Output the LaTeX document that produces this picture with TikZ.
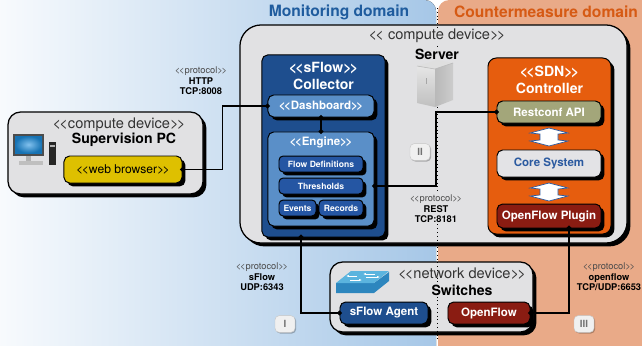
\documentclass[tikz,border=0pt]{standalone}
\usepackage{fontspec}
\setmainfont{TeX Gyre Heros}
\usetikzlibrary{shadows,arrows.meta,positioning}

\definecolor{monbg}{HTML}{A6C7E7}
\definecolor{montext}{HTML}{1F5C9E}
\definecolor{cmbg}{HTML}{E9AA88}
\definecolor{cmtext}{HTML}{D65A14}
\definecolor{boxgray}{HTML}{E1E1E3}
\definecolor{collblue}{HTML}{1E4E8E}
\definecolor{engblue}{HTML}{5A8FC8}
\definecolor{partblue}{HTML}{2556A3}
\definecolor{sdnorange}{HTML}{E65D0E}
\definecolor{restgreen}{HTML}{A3A67A}
\definecolor{coregray}{HTML}{E3E3E6}
\definecolor{coretext}{HTML}{2B5AA0}
\definecolor{ofred}{HTML}{8A1C12}
\definecolor{webyellow}{HTML}{DEC000}
\definecolor{swtop}{HTML}{5BB4DE}
\definecolor{swside}{HTML}{2D86BE}
\definecolor{screen}{HTML}{1C8FE0}

% stereotype brackets (kept apart so no guillemet ligature is formed)
\newcommand\sopen{<\kern-0.12em<}
\newcommand\sclose{>\kern-0.12em>}

\tikzset{
  shadowed/.style={drop shadow={shadow xshift=2.4pt,shadow yshift=-2.4pt,opacity=1,fill=black}},
  device/.style={shadowed,draw=black,line width=0.9pt,fill=boxgray,inner sep=0pt},
  part/.style={shadowed,draw=black,line width=0.7pt,rounded corners=4pt,inner sep=0pt,
    text=white,font=\fontsize{8.2}{9}\selectfont\bfseries},
  small part/.style={part,fill=partblue,minimum height=0.4cm,rounded corners=3pt,
    font=\fontsize{6.1}{7}\selectfont\bfseries},
  stereo/.style={font=\fontsize{10.4}{12}\selectfont,text=black!80},
  devname/.style={font=\fontsize{10}{12}\selectfont\bfseries},
  domaintitle/.style={font=\fontsize{11.1}{13}\selectfont\bfseries},
  proto/.style={align=center,font=\fontsize{6.6}{7.5}\selectfont\bfseries},
  link/.style={line width=0.9pt,{Circle[length=3.4pt]}-{Circle[length=3.4pt]},
    shorten <=-1.7pt,shorten >=-1.7pt},
  badge/.style={draw=gray!45,line width=0.3pt,fill=gray!12,rounded corners=3pt,inner sep=0pt,
    minimum width=0.5cm,minimum height=0.42cm,font=\fontsize{7}{8}\selectfont\bfseries,text=black!55,
    drop shadow={shadow xshift=0.8pt,shadow yshift=-0.8pt,opacity=0.25,fill=black}},
  updown/.style={fill=white,draw=coretext,line width=0.5pt}
}

\begin{document}
\begin{tikzpicture}[x=0.025cm,y=-0.025cm]
    \useasboundingbox (0,0) rectangle (642,345);

    % Domain backgrounds
    \fill[left color=white,right color=monbg,rounded corners=8pt] (-40,0) rectangle (436,360);
    \fill[cmbg,rounded corners=8pt] (438,0) rectangle (690,360);
    \node[domaintitle,text=montext] (mon) at (339,12) {Monitoring domain};
    \node[domaintitle,text=cmtext] (cm) at (546,12) {Countermeasure domain};

    % Device boxes
    \node[device,rounded corners=15pt,minimum width=9.675cm,minimum height=5.45cm] (srv) at (433.5,134) {};
    \node[device,rounded corners=9pt,minimum width=4.875cm,minimum height=2.05cm] (pc) at (105.5,153) {};
    \node[device,rounded corners=9pt,minimum width=5.075cm,minimum height=1.75cm] (sw) at (431.5,297) {};

    % Domain border
    \draw[dotted,line width=0.7pt] (437,8) -- (437,342);

    % Server
    \node[stereo,fill=boxgray,inner sep=1pt] (srvst) at (437,36) {\sopen\ compute device\sclose};
    \node[devname,fill=boxgray,inner sep=1pt] (srvname) at (437,54) {Server};
    \fill[gray!25] (417,66) -- (437,60) -- (453,63) -- (435,69) -- cycle;
    \shade[top color=gray!20,bottom color=gray!50] (417,66) -- (435,69) -- (435,107) -- (417,103) -- cycle;
    \shade[left color=gray!55,right color=gray!40] (435,69) -- (453,63) -- (453,100) -- (435,107) -- cycle;
    \draw[gray!55,line width=0.4pt] (417,66) -- (435,69) -- (453,63);
    \fill[gray!70] (425.5,78) rectangle (427,84);

    % Supervision PC
    \node[stereo] (pcst) at (119,125) {\sopen compute device\sclose};
    \node[devname] (pcname) at (124,140) {Supervision PC};
    \fill[black!70] (13,134) rectangle (44,156);
    \shade[inner color=screen!55,outer color=screen!80!black] (15,136) rectangle (42,153);
    \fill[gray!60] (26,156) rectangle (31,161);
    \fill[gray!50] (19,161) rectangle (43,165);
    \fill[black!85] (49,142) rectangle (56,165);
    \fill[gray!60] (50,145) rectangle (55,147);
    \node[part,fill=webyellow,text=black,font=\fontsize{8.6}{10}\selectfont,
      minimum width=2.95cm,minimum height=0.675cm] (browser) at (123,169.5) {\sopen web browser\sclose};

    % sFlow collector
    \node[part,fill=collblue,minimum width=3.075cm,minimum height=4.55cm] (coll) at (323.5,146) {};
    \node[devname,text=white] (collst) at (323.5,68) {\sopen sFlow\sclose};
    \node[devname,text=white] (collname) at (323.5,84) {Collector};
    \node[part,fill=engblue,minimum width=2.65cm,minimum height=0.55cm] (dash) at (321,106) {\sopen Dashboard\sclose};
    \node[part,fill=engblue,minimum width=2.65cm,minimum height=2.35cm] (engine) at (321,179) {};
    \node[text=white,font=\fontsize{8.2}{9}\selectfont\bfseries] (enginest) at (321,142) {\sopen Engine\sclose};
    \node[small part,minimum width=2.1cm] (flowdef) at (321,164) {Flow Definitions};
    \node[small part,minimum width=2.1cm] (thr) at (321,186) {Thresholds};
    \node[small part,minimum width=0.925cm] (events) at (297.5,208) {Events};
    \node[small part,minimum width=1.1cm] (records) at (341,208) {Records};

    % SDN controller
    \node[part,fill=sdnorange,rounded corners=6pt,minimum width=3.075cm,minimum height=4.4cm] (sdn) at (549.5,146) {};
    \node[devname,text=white] (sdnst) at (549.5,72) {\sopen SDN\sclose};
    \node[devname,text=white] (sdnname) at (549.5,88) {Controller};
    \node[part,fill=restgreen,minimum width=2.6cm,minimum height=0.55cm] (rest) at (549,112) {Restconf API};
    \node[part,fill=coregray,text=coretext,minimum width=2.6cm,minimum height=0.675cm] (core) at (549,163.5) {Core System};
    \node[part,fill=ofred,minimum width=2.6cm,minimum height=0.6cm] (plugin) at (549,216) {OpenFlow Plugin};
    \foreach \yc in {137,192}
        \filldraw[updown] (549,\yc-9) -- (568,\yc-4) -- (558,\yc-3) -- (558,\yc+3) -- (568,\yc+4)
            -- (549,\yc+9) -- (530,\yc+4) -- (540,\yc+3) -- (540,\yc-3) -- (530,\yc-4) -- cycle;

    % Switches
    \node[stereo] (swst) at (462,274) {\sopen network device\sclose};
    \node[devname] (swname) at (462,290) {Switches};
    \fill[swside] (336,283) -- (374,283) -- (389,272) -- (389,281) -- (374,293) -- (336,293) -- cycle;
    \fill[swtop] (336,283) -- (351,271) -- (389,271) -- (374,283) -- cycle;
    \draw[white,line width=0.6pt,-{Latex[length=2pt]}] (350,280) -- (362,280);
    \draw[white,line width=0.6pt,-{Latex[length=2pt]}] (375,274) -- (363,274);
    \draw[white,line width=0.6pt,-{Latex[length=2pt]}] (366,277) -- (380,277);
    \draw[white,line width=0.6pt,-{Latex[length=2pt]}] (357,276) -- (346,276);
    \node[part,fill=collblue,minimum width=2.2cm,minimum height=0.55cm] (agent) at (384,313) {sFlow Agent};
    \node[part,fill=ofred,minimum width=2.05cm,minimum height=0.55cm] (ofsw) at (489,313) {OpenFlow};

    % Links
    \coordinate (sfl) at (301,237);
    \coordinate (ofl) at (569,228);
    \draw[link] (browser.east) -- ++(40,0) |- (dash.west);
    \draw[link] (dash.south) -- (engine.north);
    \draw[link] (rest.west) -| (436,150) |- (engine.east |- thr.east);
    \draw[link] (sfl) |- (agent.west);
    \draw[link] (ofl) |- (ofsw.east);

    % Protocol labels
    \node[proto] (http) at (201,81) {{\mdseries\color{black!70}\sopen protocol\sclose}\\HTTP\\TCP:8008};
    \node[proto,fill=boxgray,inner sep=1pt] (rest-p) at (436,209) {{\mdseries\color{black!70}\sopen protocol\sclose}\\REST\\TCP:8181};
    \node[proto] (sflow-p) at (262,277) {{\mdseries\color{black!70}\sopen protocol\sclose}\\sFlow\\UDP:6343};
    \node[proto] (of-p) at (609,277) {{\mdseries\color{black!70}\sopen protocol\sclose}\\openflow\\TCP/UDP:6653};

    % Interface badges
    \node[badge] (b1) at (285,324) {I};
    \node[badge] (b2) at (420,152) {II};
    \node[badge] (b3) at (584,324) {III};
\end{tikzpicture}
\end{document}
